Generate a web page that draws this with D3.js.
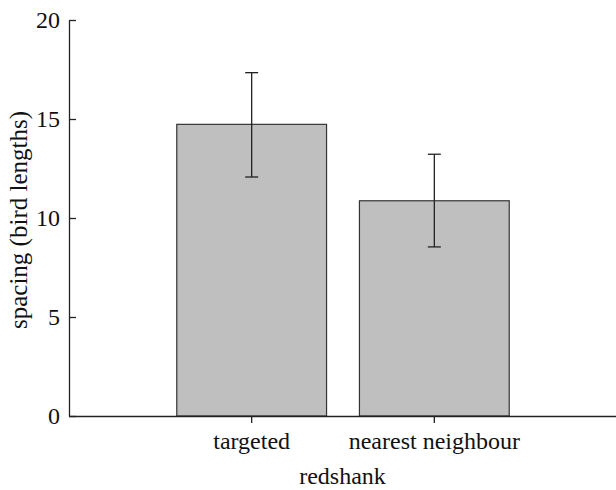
<!DOCTYPE html>
<html>
<head>
<meta charset="utf-8">
<script src="https://cdn.jsdelivr.net/npm/d3@7"></script>
</head>
<body style="margin:0;background:#fff">
<svg id="chart" width="616" height="490" style="display:block"></svg>
<script>
const categories = ["targeted", "nearest neighbour"];
const means = [14.73, 10.87];
const errLow = [12.07, 8.54];
const errHigh = [17.34, 13.22];
const yTicks = [0, 5, 10, 15, 20];
const xTitle = "redshank";
const yTitle = "spacing (bird lengths)";

const FONT = "'Liberation Serif'";
const svg = d3.select("#chart");
const mLeft = 69, mRight = 617, mTop = 20, mBottom = 416;

const x = d3.scaleBand().domain(categories).range([mLeft, mRight])
  .paddingInner(0.18).paddingOuter(0.59);
const y = d3.scaleLinear().domain([0, 20]).range([mBottom, mTop]);

// bars
svg.append("g").selectAll("rect").data(categories).join("rect")
  .attr("x", d => x(d))
  .attr("y", (d, i) => y(means[i]))
  .attr("width", x.bandwidth())
  .attr("height", (d, i) => y(0) - y(means[i]))
  .attr("fill", "#bfbfbf")
  .attr("stroke", "#333")
  .attr("stroke-width", 1.2);

// error bars
const eg = svg.append("g").attr("stroke", "#222").attr("stroke-width", 1.3);
categories.forEach((c, i) => {
  const cx = x(c) + x.bandwidth() / 2;
  eg.append("line").attr("x1", cx).attr("x2", cx).attr("y1", y(errLow[i])).attr("y2", y(errHigh[i]));
  [errLow[i], errHigh[i]].forEach(v => {
    eg.append("line").attr("x1", cx - 6.5).attr("x2", cx + 6.5).attr("y1", y(v)).attr("y2", y(v));
  });
});

// y axis
const yAxis = d3.axisRight(y).tickValues(yTicks).tickSize(7).tickSizeOuter(0).tickFormat(d3.format("d"));
const yg = svg.append("g").attr("transform", `translate(${mLeft},0)`).call(yAxis)
  .attr("font-family", null).attr("font-size", null);
yg.select(".domain").attr("stroke", "#222").attr("stroke-width", 1.3);
yg.selectAll(".tick line").attr("stroke", "#222").attr("stroke-width", 1.3);
yg.selectAll(".tick text")
  .attr("x", -9).attr("dy", "0.32em")
  .attr("text-anchor", "end")
  .style("font-family", FONT)
  .style("font-size", "24px").attr("fill", "#111");

// x axis
const xAxis = d3.axisBottom(x).tickSize(7).tickSizeOuter(0);
const xg = svg.append("g").attr("transform", `translate(0,${mBottom})`).call(xAxis)
  .attr("font-family", null).attr("font-size", null);
xg.select(".domain").attr("stroke", "#222").attr("stroke-width", 1.3).attr("d", `M${mLeft},0.5H616`);
xg.selectAll(".tick line").attr("stroke", "#222").attr("stroke-width", 1.3);
xg.selectAll(".tick text")
  .attr("y", 33).attr("dy", 0)
  .style("font-family", FONT)
  .style("font-size", "24px").attr("fill", "#111");

// titles
svg.append("text")
  .attr("x", (mLeft + 616) / 2).attr("y", 484)
  .attr("text-anchor", "middle")
  .style("font-family", FONT)
  .style("font-size", "24px").attr("fill", "#111")
  .text(xTitle);

svg.append("text")
  .attr("transform", `translate(27,220) rotate(-90)`)
  .attr("text-anchor", "middle")
  .style("font-family", FONT)
  .style("font-size", "25px").attr("fill", "#111")
  .text(yTitle);
</script>
</body>
</html>
